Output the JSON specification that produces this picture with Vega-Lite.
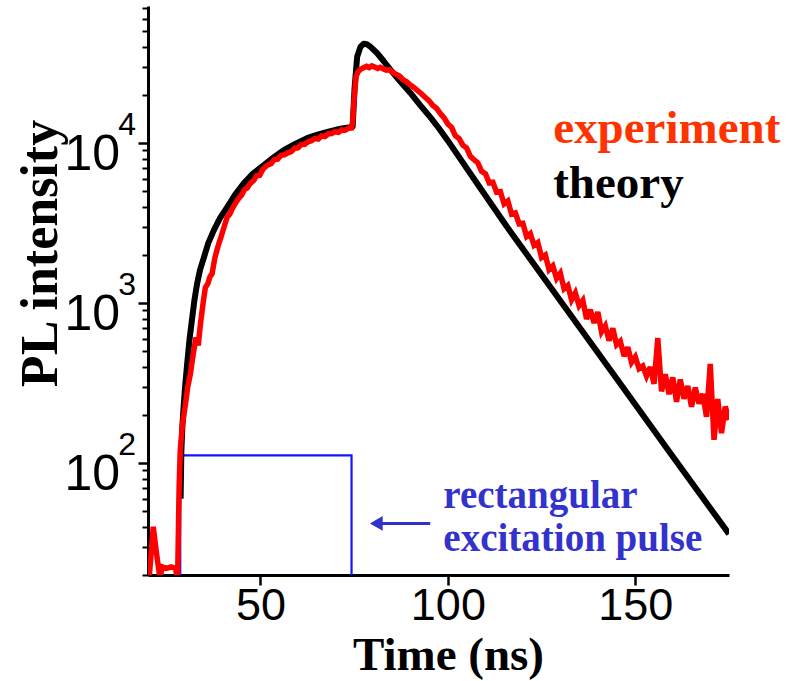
{
  "$schema": "https://vega.github.io/schema/vega-lite/v6.json",
  "width": 581,
  "height": 569,
  "autosize": {"type": "none"},
  "padding": {"left": 148, "top": 6, "right": 59, "bottom": 106},
  "background": "white",
  "config": {
    "view": {"stroke": null},
    "axis": {"grid": false, "domainColor": "black", "tickColor": "black", "domainWidth": 3, "tickWidth": 2.5, "labelColor": "black", "titleColor": "black"}
  },
  "datasets": {
    "theory": [
      {"x": 28.7, "y": 60}, {"x": 28.9, "y": 120}, {"x": 29.2, "y": 175}, {"x": 29.55, "y": 234}, {"x": 30.0, "y": 320},
      {"x": 30.45, "y": 418}, {"x": 31.1, "y": 600}, {"x": 31.8, "y": 811}, {"x": 32.4, "y": 1050}, {"x": 33.1, "y": 1325},
      {"x": 33.9, "y": 1620}, {"x": 34.9, "y": 1928}, {"x": 36.1, "y": 2380}, {"x": 37.55, "y": 2850}, {"x": 39.2, "y": 3400},
      {"x": 41.1, "y": 3970}, {"x": 43.2, "y": 4750}, {"x": 45.55, "y": 5610}, {"x": 48.0, "y": 6450}, {"x": 50.9, "y": 7280},
      {"x": 53.5, "y": 8150}, {"x": 56.2, "y": 9040}, {"x": 59.3, "y": 9900}, {"x": 62.45, "y": 10750}, {"x": 65.5, "y": 11350},
      {"x": 68.7, "y": 11900}, {"x": 71.4, "y": 12300}, {"x": 74.0, "y": 12600}, {"x": 74.6, "y": 12700}, {"x": 75.1, "y": 22000},
      {"x": 75.8, "y": 34700}, {"x": 76.7, "y": 40100}, {"x": 77.55, "y": 41800}, {"x": 78.4, "y": 41500}, {"x": 79.3, "y": 40100},
      {"x": 81.1, "y": 36600}, {"x": 82.9, "y": 32500}, {"x": 84.7, "y": 28700}, {"x": 87.3, "y": 24300}, {"x": 90.0, "y": 20600},
      {"x": 92.6, "y": 17300}, {"x": 95.3, "y": 14550}, {"x": 97.6, "y": 12400}, {"x": 99.9, "y": 10440}, {"x": 107.9, "y": 5560},
      {"x": 115.9, "y": 2970}, {"x": 130, "y": 1035}, {"x": 145, "y": 338}, {"x": 160, "y": 110}, {"x": 175, "y": 36.1}
    ],
    "experiment": [
      {"x": 20.3, "y": 19}, {"x": 21.4, "y": 40}, {"x": 22.3, "y": 27}, {"x": 23.2, "y": 19}, {"x": 23.8, "y": 22.5},
      {"x": 25.0, "y": 22}, {"x": 26.2, "y": 22.5}, {"x": 27.3, "y": 22}, {"x": 27.9, "y": 19}, {"x": 28.3, "y": 70},
      {"x": 28.6, "y": 120}, {"x": 29.2, "y": 175}, {"x": 30.0, "y": 234}, {"x": 30.6, "y": 300}, {"x": 31.3, "y": 361},
      {"x": 32.0, "y": 470}, {"x": 32.8, "y": 610}, {"x": 33.4, "y": 545}, {"x": 34.0, "y": 744}, {"x": 34.7, "y": 1000},
      {"x": 35.3, "y": 1250}, {"x": 36.0, "y": 1330}, {"x": 36.5, "y": 1460}, {"x": 37.1, "y": 1530}, {"x": 37.8, "y": 1900},
      {"x": 38.4, "y": 2150}, {"x": 38.9, "y": 2360}, {"x": 39.5, "y": 2600}, {"x": 40.2, "y": 2950}, {"x": 41.1, "y": 3440},
      {"x": 41.8, "y": 3600}, {"x": 42.5, "y": 3900}, {"x": 43.3, "y": 4200}, {"x": 44.2, "y": 4520}, {"x": 45.0, "y": 4750},
      {"x": 45.8, "y": 5150}, {"x": 46.5, "y": 5250}, {"x": 47.3, "y": 5610}, {"x": 48.2, "y": 5850}, {"x": 49.0, "y": 6250},
      {"x": 49.8, "y": 6300}, {"x": 50.7, "y": 6900}, {"x": 51.8, "y": 7280}, {"x": 52.8, "y": 7450}, {"x": 53.7, "y": 7900},
      {"x": 54.6, "y": 7950}, {"x": 55.5, "y": 8400}, {"x": 56.4, "y": 8450}, {"x": 57.3, "y": 8700}, {"x": 58.2, "y": 8850},
      {"x": 59.1, "y": 9300}, {"x": 60.0, "y": 9350}, {"x": 60.9, "y": 9800}, {"x": 61.8, "y": 9850}, {"x": 62.7, "y": 10200},
      {"x": 63.6, "y": 10350}, {"x": 64.5, "y": 10700}, {"x": 65.4, "y": 10600}, {"x": 66.3, "y": 11100}, {"x": 67.2, "y": 11000},
      {"x": 68.1, "y": 11450}, {"x": 69.0, "y": 11500}, {"x": 69.9, "y": 11800}, {"x": 70.8, "y": 11700}, {"x": 71.7, "y": 12100},
      {"x": 72.6, "y": 12050}, {"x": 73.5, "y": 12400}, {"x": 74.3, "y": 12450}, {"x": 74.6, "y": 13500}, {"x": 75.0, "y": 19000},
      {"x": 75.5, "y": 26000}, {"x": 76.0, "y": 27800}, {"x": 76.7, "y": 28900}, {"x": 77.5, "y": 29600}, {"x": 78.3, "y": 30200},
      {"x": 79.0, "y": 29700}, {"x": 79.7, "y": 30400}, {"x": 80.5, "y": 29900}, {"x": 81.3, "y": 29300}, {"x": 82.0, "y": 29800},
      {"x": 82.8, "y": 29100}, {"x": 83.6, "y": 28600}, {"x": 84.4, "y": 28800}, {"x": 85.2, "y": 27800}, {"x": 86.0, "y": 27100},
      {"x": 87.0, "y": 26400}, {"x": 88.0, "y": 25000}, {"x": 89.0, "y": 24200}, {"x": 90.0, "y": 23100}, {"x": 91.0, "y": 22200},
      {"x": 92.0, "y": 21200}, {"x": 93.0, "y": 20300}, {"x": 94.0, "y": 19300}, {"x": 95.0, "y": 18400}, {"x": 96.0, "y": 17200},
      {"x": 97.0, "y": 16500}, {"x": 98.0, "y": 15300}, {"x": 99.0, "y": 14400}, {"x": 100, "y": 13180}, {"x": 101, "y": 12530},
      {"x": 102, "y": 11120}, {"x": 103, "y": 10690}, {"x": 104, "y": 9710}, {"x": 105, "y": 9330}, {"x": 106, "y": 8280},
      {"x": 107, "y": 7870}, {"x": 108, "y": 7520}, {"x": 109, "y": 6670}, {"x": 110, "y": 6460}, {"x": 111, "y": 5660},
      {"x": 112, "y": 5700}, {"x": 113, "y": 4940}, {"x": 114, "y": 4980}, {"x": 115, "y": 4170}, {"x": 116, "y": 4350},
      {"x": 117, "y": 3600}, {"x": 118, "y": 3660}, {"x": 119, "y": 3140}, {"x": 120, "y": 3160}, {"x": 121, "y": 2610},
      {"x": 122, "y": 2720}, {"x": 123, "y": 2300}, {"x": 124, "y": 2390}, {"x": 125, "y": 1930}, {"x": 126, "y": 2000},
      {"x": 127, "y": 1620}, {"x": 128, "y": 1710}, {"x": 129, "y": 1430}, {"x": 130, "y": 1540}, {"x": 131, "y": 1230},
      {"x": 132, "y": 1290}, {"x": 133, "y": 1050}, {"x": 134, "y": 1160}, {"x": 135, "y": 966}, {"x": 136, "y": 1040},
      {"x": 137, "y": 798}, {"x": 138, "y": 910}, {"x": 139, "y": 752}, {"x": 140, "y": 879}, {"x": 141, "y": 662},
      {"x": 142, "y": 721}, {"x": 143, "y": 583}, {"x": 144, "y": 697}, {"x": 145, "y": 550}, {"x": 146, "y": 579},
      {"x": 147, "y": 467}, {"x": 148, "y": 530}, {"x": 149, "y": 427}, {"x": 150, "y": 462}, {"x": 151, "y": 390},
      {"x": 152, "y": 405}, {"x": 153, "y": 350}, {"x": 154, "y": 398}, {"x": 155, "y": 313}, {"x": 156, "y": 605},
      {"x": 157, "y": 281}, {"x": 158, "y": 359}, {"x": 159, "y": 270}, {"x": 160, "y": 344}, {"x": 161, "y": 242},
      {"x": 162, "y": 333}, {"x": 163, "y": 253}, {"x": 164, "y": 304}, {"x": 165, "y": 225}, {"x": 166, "y": 297},
      {"x": 167, "y": 236}, {"x": 168, "y": 271}, {"x": 169, "y": 195}, {"x": 170, "y": 417}, {"x": 171, "y": 140},
      {"x": 172, "y": 252}, {"x": 173, "y": 154}, {"x": 174, "y": 226}, {"x": 175, "y": 186}
    ],
    "pulse": [
      {"x": 28.6, "y": 20, "i": 0}, {"x": 28.6, "y": 112, "i": 1}, {"x": 74.3, "y": 112, "i": 2}, {"x": 74.3, "y": 20, "i": 3}
    ],
    "ylabels": [
      {"v": 100, "e": "2"}, {"v": 1000, "e": "3"}, {"v": 10000, "e": "4"}
    ],
    "legend": [
      {"t": "experiment", "x": 128.1, "y": 10000, "c": "experiment"},
      {"t": "theory", "x": 128.1, "y": 4520, "c": "theory"}
    ],
    "note": [
      {"t": "rectangular", "x": 98.8, "y": 52.3},
      {"t": "excitation pulse", "x": 98.8, "y": 28.1}
    ],
    "arrow": [
      {"x": 81.5, "x2": 95.3, "y": 42, "hx": 80.9}
    ]
  },
  "resolve": {"axis": {"y": "independent"}},
  "layer": [
    {
      "data": {"name": "pulse"},
      "mark": {"type": "line", "color": "#1414ff", "strokeWidth": 2.2, "clip": true},
      "encoding": {
        "x": {"field": "x", "type": "quantitative", "scale": {"domain": [20, 175], "nice": false, "zero": false},
          "axis": {"values": [50, 100, 150], "tickSize": 10, "labelFont": "Liberation Sans", "labelFontSize": 45, "labelPadding": -2,
            "title": "Time (ns)", "titleFont": "Liberation Serif", "titleFontWeight": "bold", "titleFontSize": 47,
            "titleX": 300, "titleY": 94, "titleBaseline": "alphabetic", "titleAlign": "center"}},
        "y": {"field": "y", "type": "quantitative", "scale": {"type": "log", "domain": [20, 72000], "nice": false},
          "axis": {"orient": "left", "values": [20, 30, 40, 50, 60, 70, 80, 90, 200, 300, 400, 500, 600, 700, 800, 900, 2000, 3000, 4000, 5000, 6000, 7000, 8000, 9000, 20000, 30000, 40000, 50000, 60000, 70000],
            "tickSize": 6, "tickWidth": 2, "labels": false, "domain": true, "title": null}},
        "order": {"field": "i", "type": "quantitative"}
      }
    },
    {
      "data": {"name": "theory"},
      "mark": {"type": "line", "color": "black", "strokeWidth": 6, "clip": true, "strokeJoin": "round"},
      "encoding": {
        "x": {"field": "x", "type": "quantitative"},
        "y": {"field": "y", "type": "quantitative",
          "axis": {"orient": "left", "values": [100, 1000, 10000], "tickSize": 10, "labels": false, "domain": false,
            "title": "PL intensity", "titleFont": "Liberation Serif", "titleFontWeight": "bold", "titleFontSize": 52,
            "titleAngle": 270, "titleX": -92, "titleY": 247, "titleBaseline": "alphabetic", "titleAlign": "center"}}
      }
    },
    {
      "data": {"name": "experiment"},
      "mark": {"type": "line", "color": "#ff0000", "strokeWidth": 5.5, "clip": true, "strokeMiterLimit": 3},
      "encoding": {
        "x": {"field": "x", "type": "quantitative"},
        "y": {"field": "y", "type": "quantitative", "axis": null}
      }
    },
    {
      "data": {"name": "ylabels"},
      "mark": {"type": "text", "font": "Liberation Sans", "fontSize": 50, "align": "right", "baseline": "alphabetic", "dx": -28, "dy": 27, "color": "black"},
      "encoding": {
        "x": {"datum": 20, "type": "quantitative"},
        "y": {"field": "v", "type": "quantitative", "axis": null},
        "text": {"value": "10"}
      }
    },
    {
      "data": {"name": "ylabels"},
      "mark": {"type": "text", "font": "Liberation Sans", "fontSize": 32, "align": "right", "baseline": "alphabetic", "dx": -12, "dy": -8, "color": "black"},
      "encoding": {
        "x": {"datum": 20, "type": "quantitative"},
        "y": {"field": "v", "type": "quantitative", "axis": null},
        "text": {"field": "e"}
      }
    },
    {
      "data": {"name": "legend"},
      "mark": {"type": "text", "font": "Liberation Serif", "fontWeight": "bold", "fontSize": 47, "align": "left", "baseline": "alphabetic"},
      "encoding": {
        "x": {"field": "x", "type": "quantitative"},
        "y": {"field": "y", "type": "quantitative", "axis": null},
        "text": {"field": "t"},
        "color": {"field": "c", "type": "nominal", "scale": {"domain": ["experiment", "theory"], "range": ["#ff3300", "black"]}, "legend": null}
      }
    },
    {
      "data": {"name": "note"},
      "mark": {"type": "text", "font": "Liberation Serif", "fontWeight": "bold", "fontSize": 39, "align": "left", "baseline": "alphabetic", "color": "#3333cc"},
      "encoding": {
        "x": {"field": "x", "type": "quantitative"},
        "y": {"field": "y", "type": "quantitative", "axis": null},
        "text": {"field": "t"}
      }
    },
    {
      "data": {"name": "arrow"},
      "mark": {"type": "rule", "color": "#3333cc", "strokeWidth": 3},
      "encoding": {
        "x": {"field": "x", "type": "quantitative"},
        "x2": {"field": "x2"},
        "y": {"field": "y", "type": "quantitative", "axis": null}
      }
    },
    {
      "data": {"name": "arrow"},
      "mark": {"type": "point", "shape": "triangle-left", "filled": true, "color": "#3333cc", "size": 220, "opacity": 1},
      "encoding": {
        "x": {"field": "hx", "type": "quantitative"},
        "y": {"field": "y", "type": "quantitative", "axis": null}
      }
    }
  ]
}
